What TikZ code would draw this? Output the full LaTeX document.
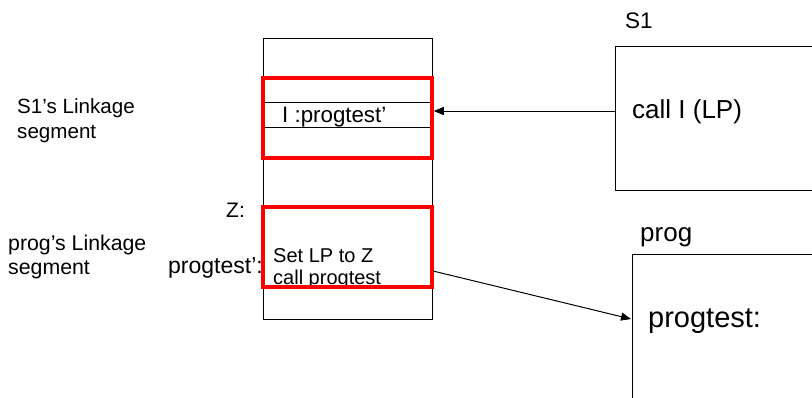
\documentclass[tikz,border=0pt]{standalone}
\usepackage{fontspec}
\setmainfont{Liberation Sans}
\usetikzlibrary{arrows.meta}
\tikzset{
  blk/.style={draw=black, line width=1pt},
  redbox/.style={draw=red, line width=3.5pt, minimum width=169pt, minimum height=80pt, inner sep=0pt},
  memcol/.style={draw=black, line width=1pt, minimum width=169pt, minimum height=281pt, inner sep=0pt},
  lbl/.style={anchor=base west, inner sep=0pt},
  conn/.style={draw=black, line width=1pt, -{Triangle[length=10pt,width=8pt]}},
}
\newcommand{\fs}[1]{\fontsize{#1}{#1}\selectfont}
\begin{document}
\begin{tikzpicture}[x=1pt,y=-1pt]
\useasboundingbox (0,0) rectangle (812,397);
\clip (0,0) rectangle (812,397);
% memory column
\node[memcol] (mem) at (347.5,178.5) {};
\coordinate (l1w) at (263,102); \coordinate (l1e) at (432,102);
\coordinate (l2w) at (263,127); \coordinate (l2e) at (432,127);
\draw[blk] (l1w) -- (l1e);
\draw[blk] (l2w) -- (l2e);
% texts in / beside memory column
\node[lbl, font=\fs{22.3}] (ipt) at (282,122) {I :progtest’};
\node[lbl, font=\fs{20}] (setlp) at (273,262) {Set LP to Z};
\node[lbl, font=\fs{20}] (callp) at (273,284) {call progtest};
\node[lbl, font=\fs{21}] (zlab) at (226,217) {Z:};
\node[lbl, font=\fs{23}] (ptq) at (168,273) {progtest’:};
% left labels
\node[lbl, font=\fs{20.6}] (s1l1) at (17,113) {S1’s Linkage};
\node[lbl, font=\fs{20.6}] (s1l2) at (17,138) {segment};
\node[lbl, font=\fs{21.3}] (pl1) at (8,250) {prog’s Linkage};
\node[lbl, font=\fs{21.3}] (pl2) at (8,274) {segment};
% red segments
\node[redbox] (seg1) at (347.5,118) {};
\node[redbox] (seg2) at (347.5,247) {};
% S1 box
\coordinate (s1tl) at (615,46); \coordinate (s1bl) at (615,190);
\draw[blk] (820,46) -- (s1tl) -- (s1bl) -- (820,190);
\node[lbl, font=\fs{22.5}] (s1name) at (625,28) {S1};
\node[lbl, font=\fs{26}] (calli) at (632,118) {call I (LP)};
% prog box
\coordinate (ptl) at (632,254);
\draw[blk] (820,254) -- (ptl) -- (632,405);
\node[lbl, font=\fs{26}] (pname) at (640,241) {prog};
\node[lbl, font=\fs{29}] (ptest) at (648,327) {progtest:};
% connectors
\coordinate (s1in) at (615,111);
\draw[conn] (s1in) -- (seg1.east |- s1in);
\coordinate (a2s) at (433,271);
\coordinate (a2e) at (631,319);
\draw[conn] (a2s) -- (a2e);
\end{tikzpicture}
\end{document}
